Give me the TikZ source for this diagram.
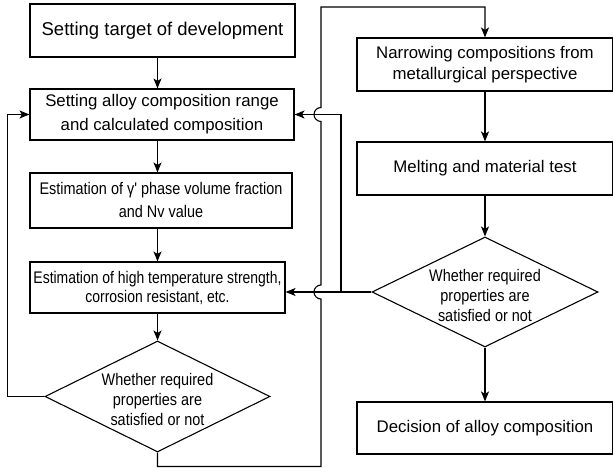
\documentclass[tikz,border=0pt]{standalone}
\usepackage{fontspec}
\setmainfont{Liberation Sans}
\newfontfamily\narrowfont[FakeStretch=0.86]{Liberation Sans}
\newfontfamily\narrowerfont[FakeStretch=0.83]{Liberation Sans}
\usetikzlibrary{arrows.meta,shapes.geometric}

\begin{document}
\begin{tikzpicture}[x=1pt,y=1pt,line width=1.1pt,
  >={Stealth[length=10pt,width=8pt,inset=2.5pt]},
  box/.style={draw,rectangle,inner sep=0pt,align=center,font=\fontsize{16.8}{22}\selectfont},
  nbox/.style={box,font=\narrowfont\fontsize{16.8}{20}\selectfont},
  decision/.style={draw,diamond,inner sep=0pt,minimum width=225,minimum height=111},
  dtext/.style={align=center,font=\narrowfont\fontsize{16.8}{20}\selectfont,yshift=-3pt}]
\useasboundingbox (0,0) rectangle (613,468);
\node[box,minimum width=265,minimum height=53,font=\fontsize{18.5}{22}\selectfont] (tgt) at (162.5,437.5) {Setting target of development};
\node[box,minimum width=264,minimum height=51,font=\fontsize{16.8}{24}\selectfont] (comp) at (162,353.5) {Setting alloy composition range\\and calculated composition};
\node[nbox,minimum width=262,minimum height=55,font=\narrowfont\fontsize{16.8}{23}\selectfont] (gam) at (161,267.5) {Estimation of γ' phase volume fraction\\and Nv value};
\node[nbox,minimum width=255,minimum height=51,font=\narrowerfont\fontsize{16.8}{19}\selectfont] (strg) at (157.5,180.5) {Estimation of high temperature strength,\\corrosion resistant, etc.};
\node[decision,label={[dtext]center:{Whether required\\properties are\\satisfied or not}}] (chk1) at (157.5,71.5) {};
\node[box,minimum width=256,minimum height=53,font=\fontsize{16.8}{21}\selectfont] (narr) at (485,403.5) {Narrowing compositions from\\metallurgical perspective};
\node[box,minimum width=256,minimum height=53] (melt) at (485,299.5) {Melting and material test};
\node[decision,minimum width=226,minimum height=110,label={[dtext]center:{Whether required\\properties are\\satisfied or not}}] (chk2) at (485,176) {};
\node[box,minimum width=256,minimum height=52] (dec) at (485,40) {Decision of alloy composition};
\coordinate (jn) at (341,176);

\draw[->] (tgt.south -| chk1.north) -- (comp.north -| chk1.north);
\draw[->] (comp.south -| chk1.north) -- (gam.north -| chk1.north);
\draw[->] (gam.south -| chk1.north) -- (strg.north -| chk1.north);
\draw[->] (strg.south -| chk1.north) -- (chk1.north);
\draw[->] (chk1.west) -- ++(-37,0) |- (comp.west);
\draw[->] (chk1.south) |- (321,1.5) -- (321,169) arc[start angle=270,end angle=90,radius=7]
  -- (321,346.5) arc[start angle=270,end angle=90,radius=7] -- (321,461) -| (narr.north);
\draw[->] (narr.south) -- (melt.north);
\draw[->] (melt.south) -- (chk2.north);
\draw[->] (chk2.south) -- (dec.north);
\draw[->] (chk2.west) -- (strg.east |- chk2.west);
\draw[->] (jn) |- (comp.east);
\end{tikzpicture}
\end{document}
